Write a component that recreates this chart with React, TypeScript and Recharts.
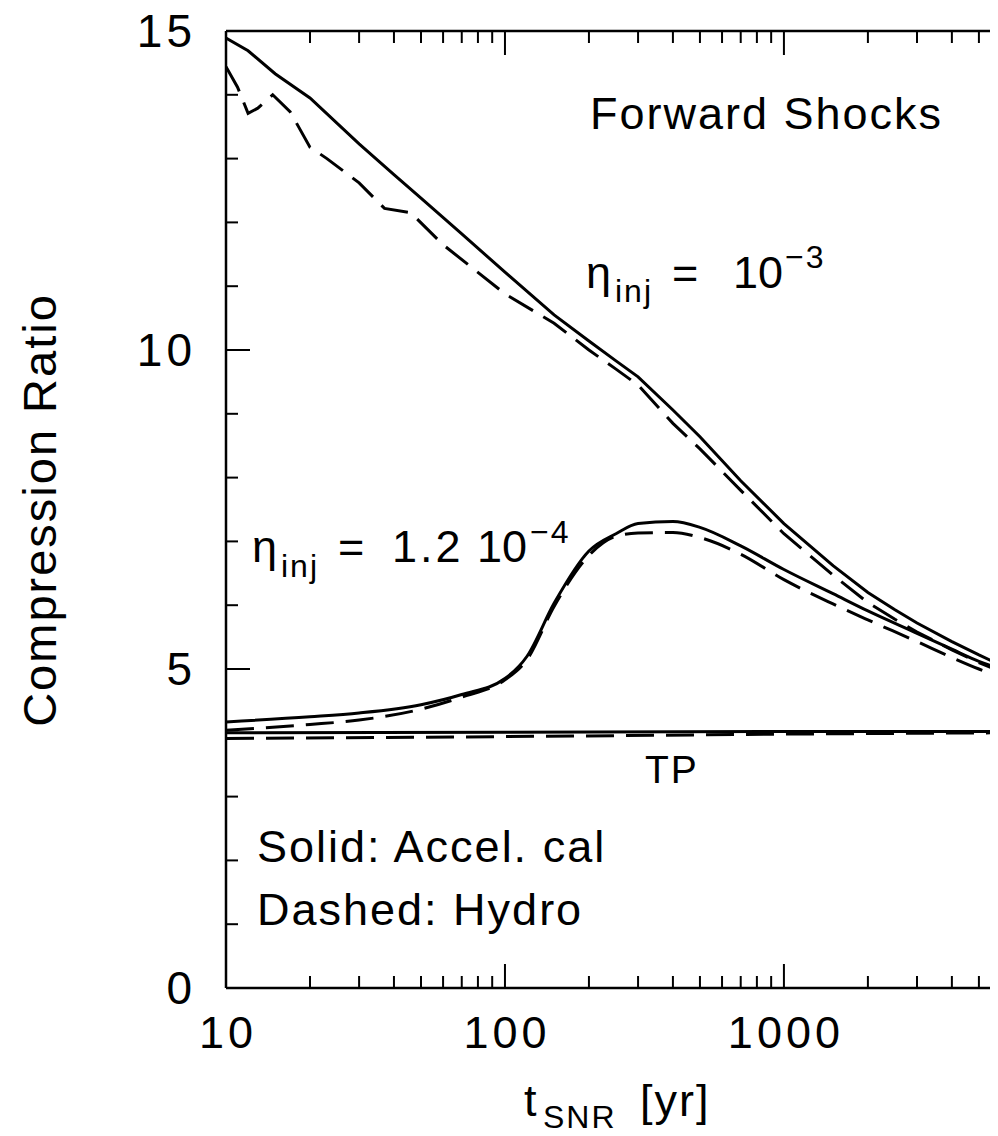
import { Line, LineChart, XAxis, YAxis } from 'recharts'

// frame of the plot in page pixels
const W = 1020
const H = 1136
const LEFT = 226
const TOP = 31
const RIGHT = 1001
const BOTTOM = 988
const FONT = "'Liberation Sans', Arial, sans-serif"

const xTicks = [10, 20, 30, 40, 50, 60, 70, 80, 90, 100, 200, 300, 400, 500, 600, 700, 800, 900, 1000, 2000, 3000, 4000, 5000, 6000]
const yTicks = [0, 1, 2, 3, 4, 5, 6, 7, 8, 9, 10, 11, 12, 13, 14, 15]
const yLabels = [0, 5, 10, 15]

// eta_inj = 1e-3
const tHighAccel = [10, 12, 15, 20, 30, 40, 50, 70, 100, 150, 200, 250, 300, 400, 500, 700, 1000, 1500, 2000, 2500, 3000, 4000, 5000, 6000]
const highAccel = [14.89, 14.69, 14.33, 13.95, 13.23, 12.75, 12.38, 11.82, 11.22, 10.55, 10.14, 9.83, 9.58, 9.06, 8.64, 7.95, 7.28, 6.62, 6.2, 5.93, 5.72, 5.43, 5.22, 5.06]
const tHighHydro = [10, 11, 12, 13, 14.7, 17, 20, 23, 30, 37, 46, 60, 100, 150, 200, 250, 300, 400, 500, 700, 1000, 1500, 2000, 2500, 3000, 4000, 5000, 6000]
const highHydro = [14.44, 14.12, 13.71, 13.79, 14.0, 13.73, 13.18, 13.0, 12.62, 12.22, 12.15, 11.65, 10.88, 10.42, 10.0, 9.7, 9.45, 8.85, 8.45, 7.8, 7.12, 6.47, 6.04, 5.78, 5.58, 5.3, 5.1, 4.96]

// eta_inj = 1.2e-4
const tLow = [10, 20, 30, 50, 70, 100, 120, 150, 200, 250, 300, 400, 500, 700, 1000, 1500, 2000, 3000, 4000, 5000, 6000]
const lowAccel = [4.17, 4.25, 4.31, 4.44, 4.6, 4.85, 5.2, 6.03, 6.85, 7.12, 7.28, 7.31, 7.22, 6.93, 6.56, 6.18, 5.91, 5.56, 5.31, 5.12, 5.0]
const lowHydro = [4.04, 4.13, 4.2, 4.37, 4.56, 4.83, 5.15, 5.98, 6.78, 7.08, 7.13, 7.14, 7.06, 6.8, 6.4, 6.02, 5.77, 5.43, 5.18, 5.0, 4.87]

// test particle
const tTP = [10, 100, 1000, 6000]
const tpAccel = [4.0, 4.01, 4.02, 4.02]
const tpHydro = [3.91, 3.94, 3.98, 4.0]

const pts = (ts: number[], vs: number[]) => ts.map((t, i) => ({ t, v: vs[i] }))

const isDecade = (v: number) => Math.abs(Math.log10(v) - Math.round(Math.log10(v))) < 1e-9

const txt = { fontFamily: FONT, fill: '#000' }

function BottomTick(props: any) {
  const { x, payload } = props
  const major = isDecade(payload.value)
  return (
    <g>
      <line x1={x} x2={x} y1={BOTTOM} y2={BOTTOM - (major ? 24 : 12)} stroke="#000" strokeWidth={2} />
      {major && (
        <text x={x + 2} y={1048} textAnchor="middle" fontSize={45} letterSpacing={4} style={txt}>
          {payload.value}
        </text>
      )}
    </g>
  )
}

function TopTick(props: any) {
  const { x, payload } = props
  const major = isDecade(payload.value)
  return <line x1={x} x2={x} y1={TOP} y2={TOP + (major ? 24 : 12)} stroke="#000" strokeWidth={2} />
}

function LeftTick(props: any) {
  const { y, payload } = props
  const major = yLabels.includes(payload.value)
  return (
    <g>
      <line x1={LEFT} x2={LEFT + (major ? 24 : 12)} y1={y} y2={y} stroke="#000" strokeWidth={2} />
      {major && (
        <text x={196} y={y + 16} textAnchor="end" fontSize={46} letterSpacing={4} style={txt}>
          {payload.value}
        </text>
      )}
    </g>
  )
}

function RightTick(props: any) {
  const { y, payload } = props
  const major = yLabels.includes(payload.value)
  return <line x1={RIGHT} x2={RIGHT - (major ? 24 : 12)} y1={y} y2={y} stroke="#000" strokeWidth={2} />
}

const axisLine = { stroke: '#000', strokeWidth: 2.5 }

export default function App() {
  return (
    <div style={{ margin: -8, width: 998, height: 1136, overflow: 'hidden', position: 'relative', background: '#fff' }}>
      <LineChart width={W} height={H} margin={{ top: TOP - 10, left: LEFT - 60, right: W - RIGHT - 10, bottom: H - BOTTOM - 60 }}>
        <XAxis
          dataKey="t"
          type="number"
          scale="log"
          domain={[10, 6000]}
          allowDataOverflow
          ticks={xTicks}
          interval={0}
          tick={<BottomTick />}
          tickLine={false}
          axisLine={axisLine}
          height={60}
        />
        <XAxis
          xAxisId="top"
          orientation="top"
          dataKey="t"
          type="number"
          scale="log"
          domain={[10, 6000]}
          allowDataOverflow
          ticks={xTicks}
          interval={0}
          tick={<TopTick />}
          tickLine={false}
          axisLine={axisLine}
          height={10}
        />
        <YAxis type="number" domain={[0, 15]} ticks={yTicks} interval={0} tick={<LeftTick />} tickLine={false} axisLine={axisLine} width={60} />
        <YAxis
          yAxisId="right"
          orientation="right"
          type="number"
          domain={[0, 15]}
          ticks={yTicks}
          interval={0}
          tick={<RightTick />}
          tickLine={false}
          axisLine={axisLine}
          width={10}
        />
        <Line data={pts(tHighAccel, highAccel)} dataKey="v" type="linear" stroke="#000" strokeWidth={3} dot={false} isAnimationActive={false} />
        <Line data={pts(tHighHydro, highHydro)} dataKey="v" type="linear" stroke="#000" strokeWidth={3} strokeDasharray="28 12" dot={false} isAnimationActive={false} />
        <Line data={pts(tLow, lowAccel)} dataKey="v" type="monotone" stroke="#000" strokeWidth={3} dot={false} isAnimationActive={false} />
        <Line data={pts(tLow, lowHydro)} dataKey="v" type="monotone" stroke="#000" strokeWidth={3} strokeDasharray="28 12" dot={false} isAnimationActive={false} />
        <Line data={pts(tTP, tpAccel)} dataKey="v" type="linear" stroke="#000" strokeWidth={3} dot={false} isAnimationActive={false} />
        <Line data={pts(tTP, tpHydro)} dataKey="v" type="linear" stroke="#000" strokeWidth={3} strokeDasharray="28 12" dot={false} isAnimationActive={false} />
      </LineChart>
      <svg width={998} height={1136} style={{ position: 'absolute', left: 0, top: 0, pointerEvents: 'none' }}>
        <g style={txt} fontSize={45} letterSpacing={2}>
          <text x={590} y={129}>Forward Shocks</text>

          <text x={586} y={288}>η</text>
          <text x={615} y={302} fontSize={32}>inj</text>
          <text x={672} y={288}>=</text>
          <text x={733} y={288} letterSpacing={0}>10</text>
          <text x={785} y={268} fontSize={32}>−3</text>

          <text x={252} y={562}>η</text>
          <text x={281} y={577} fontSize={32}>inj</text>
          <text x={338} y={562}>=</text>
          <text x={392} y={562} letterSpacing={3}>1.2</text>
          <text x={477} y={562} letterSpacing={0}>10</text>
          <text x={530} y={543} fontSize={32}>−4</text>

          <text x={645} y={783} fontSize={39}>TP</text>

          <text x={257} y={862}>Solid: Accel. cal</text>
          <text x={257} y={925}>Dashed: Hydro</text>

          <text x={524} y={1116}>t</text>
          <text x={543} y={1128} fontSize={32}>SNR</text>
          <text x={640} y={1116}>[yr]</text>

          <text transform="translate(56 510) rotate(-90)" textAnchor="middle" fontSize={47}>Compression Ratio</text>
        </g>
      </svg>
    </div>
  )
}
